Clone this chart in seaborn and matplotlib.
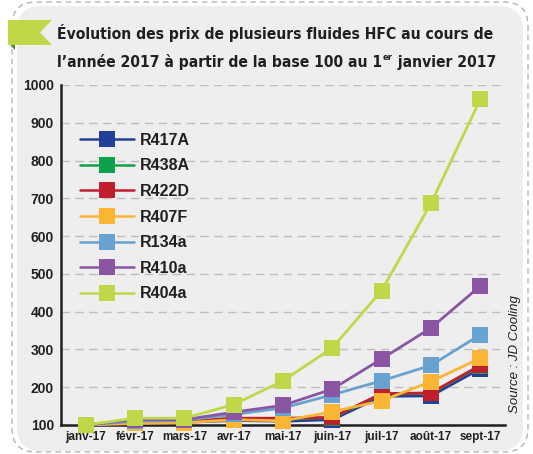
import numpy as np
import pandas as pd
import seaborn as sns
import matplotlib.pyplot as plt
from matplotlib import font_manager
from matplotlib.lines import Line2D
from matplotlib.patches import FancyBboxPatch, Polygon

# ---------------------------------------------------------------------------
# Données (indice base 100 au 1er janvier 2017)
# ---------------------------------------------------------------------------
mois = ['janv-17', 'févr-17', 'mars-17', 'avr-17', 'mai-17',
        'juin-17', 'juil-17', 'août-17', 'sept-17']
fluides = ['R417A', 'R438A', 'R422D', 'R407F', 'R134a', 'R410a', 'R404a']
couleurs = ['#21409a', '#0ca14a', '#c21f2e', '#fbb535', '#68a2d0', '#8a55a3', '#bed84a']

r417a = [100, 105, 107, 112, 110, 114, 176, 177, 249]
r438a = [100, 107, 109, 117, 117, 119, 182, 184, 257]
r422d = [100, 108, 110, 118, 118, 120, 183, 185, 258]
r407f = [100, 104, 106, 114, 111, 135, 164, 215, 277]
r134a = [100, 110, 112, 128, 145, 180, 217, 258, 339]
r410a = [100, 114, 114, 134, 152, 195, 275, 357, 468]
r404a = [100, 118, 118, 154, 217, 304, 456, 687, 962]

series = [r417a, r438a, r422d, r407f, r134a, r410a, r404a]
rows = []
for nom, vals in zip(fluides, series):
    for i, v in enumerate(vals):
        rows.append({'pos': i, 'mois': mois[i], 'fluide': nom, 'indice': v})
df = pd.DataFrame(rows)

# ---------------------------------------------------------------------------
# Figure
# ---------------------------------------------------------------------------
W, H = 533, 454
sns.set_style('white')
plt.rcParams['font.family'] = ['Liberation Sans', 'DejaVu Sans']
dark = '#231f20'

# police condensée pour le titre si disponible
fonts = font_manager.fontManager.ttflist
if any(f.name == 'Liberation Sans Narrow' for f in fonts):
    title_kw = dict(family=['Liberation Sans Narrow', 'DejaVu Sans'])
elif any(f.name == 'DejaVu Sans' and f.stretch == 'condensed' for f in fonts):
    title_kw = dict(family=['DejaVu Sans'], fontstretch='condensed')
else:
    title_kw = dict(family=['Liberation Sans', 'DejaVu Sans'])

fig = plt.figure(figsize=(W / 100, H / 100), dpi=100)
fig.patch.set_facecolor('white')


def fx(x):
    return x / W


def fy(y):
    return 1 - y / H


# cadre pointillé + panneau gris
border = FancyBboxPatch((fx(12), fy(452)), fx(516), 450 / H,
                        boxstyle='round,pad=0,rounding_size=0.045',
                        mutation_aspect=W / H, transform=fig.transFigure,
                        facecolor='none', edgecolor='#b5b5b5', lw=1,
                        linestyle=(0, (4, 3)), zorder=-2)
panel = FancyBboxPatch((fx(17), fy(451)), fx(506), 445 / H,
                       boxstyle='round,pad=0,rounding_size=0.045',
                       mutation_aspect=W / H, transform=fig.transFigure,
                       facecolor='#eeeeee', edgecolor='none', zorder=-2)
fig.patches.extend([border, panel])

# ruban vert
flag = Polygon([(fx(8), fy(20)), (fx(52), fy(20)), (fx(40), fy(32.5)),
                (fx(52), fy(45)), (fx(8), fy(45))], closed=True,
               transform=fig.transFigure, facecolor='#bed84a', edgecolor='none',
               zorder=-1)
fold = Polygon([(fx(10), fy(45)), (fx(15), fy(45)), (fx(15), fy(50))], closed=True,
               transform=fig.transFigure, facecolor='#4e8a2a', edgecolor='none',
               zorder=-1)
fig.patches.extend([flag, fold])

ax = fig.add_axes([fx(61), fy(425), fx(444), 340 / H])
ax.set_facecolor('none')
ax.set_zorder(1)

sns.lineplot(data=df, x='pos', y='indice', hue='fluide', hue_order=fluides,
             palette=couleurs, marker='s', markersize=11.5, markeredgewidth=0,
             linewidth=2, legend=False, ax=ax, clip_on=False, zorder=3)

ax.set_xlim(-0.5, 8.5)
ax.set_ylim(100, 1000)
ax.set_xticks(range(len(mois)))
ax.set_xticklabels(mois, fontsize=8.5, fontweight='bold', color=dark)
ax.set_xticks(np.arange(-0.5, 9, 1), minor=True)
ax.set_yticks(range(100, 1001, 100))
ax.set_yticklabels([str(v) for v in range(100, 1001, 100)],
                   fontsize=10, fontweight='bold', color=dark)
ax.tick_params(axis='x', which='major', length=0, pad=4)
ax.tick_params(axis='x', which='minor', direction='in', length=5, width=1.8,
               color=dark)
ax.tick_params(axis='y', length=0, pad=5)
ax.set_xlabel('')
ax.set_ylabel('')

ax.yaxis.grid(True, linestyle=(0, (6, 4)), color='#bdbdbd', lw=1)
ax.xaxis.grid(False)
for s in ['top', 'right']:
    ax.spines[s].set_visible(False)
for s in ['left', 'bottom']:
    ax.spines[s].set_color(dark)
    ax.spines[s].set_linewidth(1.8)

handles = [Line2D([], [], color=c, lw=1.8, marker='s', markersize=11.5,
                  markeredgewidth=0) for c in couleurs]
leg = ax.legend(handles, fluides, loc='upper left', bbox_to_anchor=(0.043, 0.859),
                frameon=False, borderpad=0, borderaxespad=0, handlelength=3.4,
                handletextpad=0.35, labelspacing=0.66,
                prop={'size': 11.5, 'weight': 'bold'})
for t in leg.get_texts():
    t.set_color(dark)

# ---------------------------------------------------------------------------
# Titre (ajusté à la largeur)
# ---------------------------------------------------------------------------
l1 = fig.text(fx(57), fy(39), 'Évolution des prix de plusieurs fluides HFC au cours de',
              fontsize=13, fontweight='bold', color=dark, va='baseline', ha='left',
              **title_kw)
fig.canvas.draw()
r = fig.canvas.get_renderer()
w = l1.get_window_extent(r).width
fs = 13 * 437 / w
l1.set_fontsize(fs)

l2a = fig.text(fx(57), fy(67), 'l’année 2017 à partir de la base 100 au 1',
               fontsize=fs, fontweight='bold', color=dark, va='baseline', ha='left',
               **title_kw)
fig.canvas.draw()
x_end = l2a.get_window_extent(r).x1 / fig.dpi / fig.get_figwidth()
sup = fig.text(x_end + 0.001, fy(67) + 7 / H, 'er', fontsize=fs * 0.6,
               fontweight='bold', color=dark, va='baseline', ha='left', **title_kw)
fig.canvas.draw()
x_end2 = sup.get_window_extent(r).x1 / fig.dpi / fig.get_figwidth()
fig.text(x_end2, fy(67), ' janvier 2017', fontsize=fs, fontweight='bold',
         color=dark, va='baseline', ha='left', **title_kw)

fig.text(fx(515), fy(413), 'Source : JD Cooling', rotation=90, rotation_mode='anchor',
         ha='left', va='center', fontsize=9.5, style='italic', color=dark)

fig.savefig('out.png', dpi=100, facecolor='white')
